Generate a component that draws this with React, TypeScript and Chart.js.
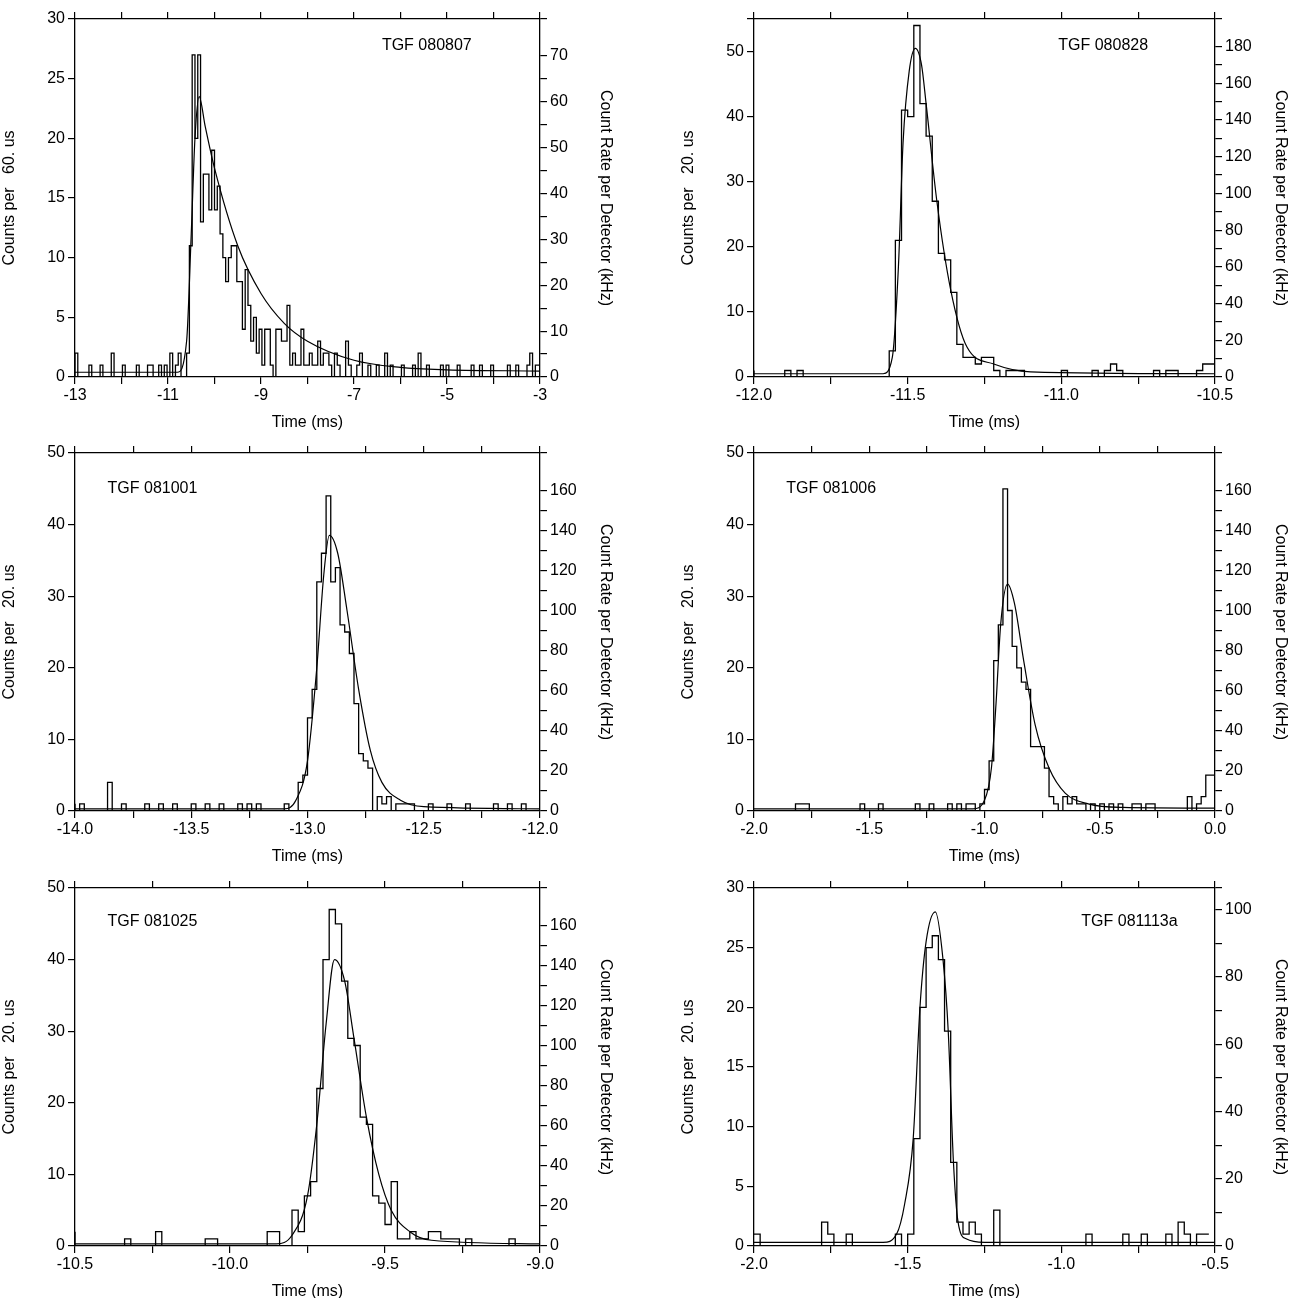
import { useEffect, useRef } from "react";
import { Chart, registerables } from "chart.js";

Chart.register(...registerables);

// bin counts, each list starts at the panel's x min with fixed bin width
const counts080807 = [
  0, 2, 0, 0, 0, 0, 1, 0, 0, 0, 1, 0, 0, 0, 2, 0, 0, 0, 1, 0, 0, 0, 0, 1, 0, 0, 0, 1, 1, 0, 0, 1, 0, 1, 0, 2, 0, 1, 2, 0, 0,
  2, 11, 27, 20, 27, 13, 17, 17, 14, 19, 14, 16, 12, 10, 8, 10, 11, 11, 8, 8, 4, 9, 6, 3, 5, 2, 4, 1, 4, 4, 1, 0, 4, 4, 3, 3, 6, 1, 2, 1, 1, 4, 1, 1, 2, 1, 1, 3, 1, 2, 2,
  1, 0, 2, 1, 0, 0, 3, 1, 0, 0, 1, 2, 0, 0, 1, 0, 0, 1, 0, 0, 2, 0, 1, 0, 0, 0, 1, 0, 0, 0, 1, 0, 2, 0, 0, 1, 0, 0, 0, 0, 1, 0, 1, 0, 0, 0, 1, 0, 0, 0, 0, 1, 0, 0, 1, 0, 0, 0, 1, 0, 0, 0, 0, 0, 1, 0, 0, 1, 0, 0, 0, 1, 2, 0, 1,
];
const counts080828 = [
  1, 0, 0, 0, 0, 0, 1, 0, 1, 0, 0, 0, 0, 0, 0, 0, 0, 0, 0, 0, 0, 0, 0,
  4, 21, 41, 40, 54, 42, 37, 27, 19, 18, 13, 5, 3, 3, 2, 3, 3, 1, 0, 1, 1,
  1, 0, 0, 0, 0, 0, 0, 1, 0, 0, 0, 0, 1, 0, 1, 2, 1, 0, 0, 0, 0, 0, 1, 0, 1, 1, 0, 0, 0, 1, 2,
];
const counts081001 = [
  1, 0, 1, 0, 0, 0, 0, 0, 4, 0, 0, 1, 0, 0, 0, 0, 1, 0, 0, 1, 0, 0, 1, 0, 0, 0, 1, 0, 0, 1, 0, 0, 1, 0, 0, 0, 1, 0, 1, 0, 1, 0, 0, 0, 0, 0, 1, 0, 0,
  4, 5, 13, 17, 32, 36, 44, 32, 34, 26, 25, 22, 15, 8, 7, 6, 0, 2, 1, 2, 0, 1, 1, 1, 1, 0,
  0, 0, 1, 0, 0, 0, 1, 0, 0, 0, 1, 0, 0, 0, 0, 0, 1, 0, 0, 1, 0, 0, 1, 0, 0,
];
const counts081006 = [
  0, 0, 0, 0, 0, 0, 0, 0, 0, 0, 1, 1, 1, 0, 0, 0, 0, 0, 0, 0, 0, 0, 0, 0, 1, 0, 0, 0, 1, 0, 0, 0, 0, 0, 0, 0, 1, 0, 0, 1, 0, 0, 0, 1, 0, 1, 0, 1, 1, 0,
  1, 3, 7, 21, 26, 45, 28, 23, 20, 18, 17, 9, 9, 9, 6, 2, 1, 0, 2, 1, 2, 1, 1, 0, 1, 0, 1, 0, 1, 0,
  1, 0, 0, 1, 1, 0, 1, 1, 0, 0, 0, 0, 0, 0, 0, 2, 0, 1, 2, 5,
];
const counts081025 = [
  2, 0, 0, 0, 0, 0, 0, 0, 0, 1, 0, 0, 0, 0, 2, 0, 0, 0, 0, 0, 0, 0, 1, 1, 0, 0, 0, 0, 0, 0, 0, 0, 2, 2, 0, 0,
  5, 2, 7, 9, 22, 40, 47, 45, 37, 29, 28, 18, 17, 7, 6, 3, 9, 1, 1, 2, 1,
  1, 2, 2, 1, 1, 1, 0, 1, 0, 0, 0, 0, 0, 0, 1, 0, 0, 0,
];
const counts081113a = [
  1, 1, 0, 0, 0, 0, 0, 0, 0, 0, 0, 0, 2, 1, 0, 0, 1, 0, 0, 0, 0, 0, 0, 0,
  1, 0, 1, 9, 20, 25, 26, 24, 18, 7, 2, 1, 2, 1, 0, 0, 3, 0,
  0, 0, 0, 0, 0, 0, 0, 0, 0, 0, 0, 0, 0, 1, 0, 0, 0, 0, 0, 1, 0, 0, 1, 0, 0, 0, 1, 0, 2, 1, 0, 1,
];

// fitted pulse curves, [time ms, counts]
const fit080807 = [
  [-13, 0.4], [-10.8, 0.4], [-10.6, 3], [-10.5, 12], [-10.42, 20], [-10.33, 23.5], [-10.2, 21], [-10, 17.5],
  [-9.5, 11], [-9, 7], [-8.5, 4.5], [-8, 3], [-7, 1.4], [-6, 0.8], [-5, 0.6], [-3, 0.5],
];
const fit080828 = [
  [-12, 0.5], [-11.58, 0.5], [-11.55, 3], [-11.53, 17], [-11.515, 36], [-11.495, 47], [-11.475, 50.5], [-11.455, 48],
  [-11.44, 42], [-11.405, 27], [-11.36, 13.4], [-11.307, 4.6], [-11.22, 2], [-11.1, 0.8], [-10.5, 0.5],
];
const fit081001 = [
  [-14, 0.3], [-13.1, 0.3], [-13.05, 1.5], [-13, 7], [-12.96, 20], [-12.93, 33], [-12.906, 38.5], [-12.87, 36],
  [-12.83, 28], [-12.78, 17], [-12.73, 8.5], [-12.68, 4], [-12.6, 1.5], [-12.5, 0.6], [-12, 0.3],
];
const fit081006 = [
  [-2, 0.3], [-1.05, 0.3], [-1.0, 1.5], [-0.97, 6], [-0.95, 15], [-0.93, 26], [-0.9, 31.7], [-0.87, 29],
  [-0.83, 21], [-0.78, 12], [-0.72, 6], [-0.65, 2.5], [-0.55, 1], [-0.4, 0.5], [0, 0.4],
];
const fit081025 = [
  [-10.5, 0.3], [-9.85, 0.3], [-9.8, 1.5], [-9.75, 7], [-9.72, 17], [-9.69, 31], [-9.663, 40], [-9.63, 37],
  [-9.6, 29], [-9.56, 18], [-9.52, 10], [-9.48, 5], [-9.42, 2], [-9.35, 0.8], [-9, 0.3],
];
const fit081113a = [
  [-2, 0.3], [-1.58, 0.3], [-1.536, 1], [-1.51, 3.5], [-1.482, 9], [-1.46, 20], [-1.44, 25.5], [-1.41, 28],
  [-1.385, 24], [-1.368, 18], [-1.351, 7], [-1.336, 2], [-1.31, 0.6], [-1.25, 0.3], [-0.5, 0.3],
];

const FONT = "'Liberation Sans', Arial, sans-serif";

type Panel = {
  name: string;
  counts: number[];
  fit: number[][];
  xMin: number;
  xMax: number;
  bin: number;
  xMajor: number;
  xDecimals: number;
  yMax: number;
  yStep: number;
  rateMax: number;
  rateStep: number;
  binLabel: string;
  left: number;
  top: number;
  width: number;
  tx: number;
  ty: number;
};

const panels: Panel[] = [
  { name: "TGF 080807", counts: counts080807, fit: fit080807, xMin: -13, xMax: -3, bin: 0.06, xMajor: 2, xDecimals: 0,
    yMax: 30, yStep: 5, rateMax: 78, rateStep: 10, binLabel: "60.", left: 0, top: 0, width: 615, tx: 0.66, ty: 0.073 },
  { name: "TGF 080828", counts: counts080828, fit: fit080828, xMin: -12, xMax: -10.5, bin: 0.02, xMajor: 0.5, xDecimals: 1,
    yMax: 55, yStep: 10, rateMax: 195, rateStep: 20, binLabel: "20.", left: 679, top: 0, width: 611, tx: 0.66, ty: 0.073 },
  { name: "TGF 081001", counts: counts081001, fit: fit081001, xMin: -14, xMax: -12, bin: 0.02, xMajor: 0.5, xDecimals: 1,
    yMax: 50, yStep: 10, rateMax: 179, rateStep: 20, binLabel: "20.", left: 0, top: 434, width: 615, tx: 0.07, ty: 0.1 },
  { name: "TGF 081006", counts: counts081006, fit: fit081006, xMin: -2, xMax: 0, bin: 0.02, xMajor: 0.5, xDecimals: 1,
    yMax: 50, yStep: 10, rateMax: 179, rateStep: 20, binLabel: "20.", left: 679, top: 434, width: 611, tx: 0.07, ty: 0.1 },
  { name: "TGF 081025", counts: counts081025, fit: fit081025, xMin: -10.5, xMax: -9, bin: 0.02, xMajor: 0.5, xDecimals: 1,
    yMax: 50, yStep: 10, rateMax: 179, rateStep: 20, binLabel: "20.", left: 0, top: 869, width: 615, tx: 0.07, ty: 0.095 },
  { name: "TGF 081113a", counts: counts081113a, fit: fit081113a, xMin: -2, xMax: -0.5, bin: 0.02, xMajor: 0.5, xDecimals: 1,
    yMax: 30, yStep: 5, rateMax: 106.5, rateStep: 20, binLabel: "20.", left: 679, top: 869, width: 611, tx: 0.71, ty: 0.095 },
];

const onStep = (v: number, base: number, step: number) => {
  const r = (v - base) / step;
  return Math.abs(r - Math.round(r)) < 1e-6;
};

function PanelChart({ p }: { p: Panel }) {
  const ref = useRef<HTMLCanvasElement | null>(null);
  useEffect(() => {
    if (!ref.current) return;
    const steps = p.counts.map((c, i) => ({ x: p.xMin + i * p.bin, y: c }));
    steps.push({ x: p.xMin + p.counts.length * p.bin, y: p.counts[p.counts.length - 1] });
    const fitPts = p.fit.map(([x, y]) => ({ x, y }));
    const tickFont = { family: FONT, size: 16 };
    const grid = { drawOnChartArea: false, tickLength: 7, color: "#000", lineWidth: 1.2 };
    const border = { color: "#000", width: 1.3 };
    const label = {
      id: "label",
      afterDraw(chart: any) {
        const a = chart.chartArea;
        const ctx = chart.ctx;
        ctx.save();
        ctx.font = `16px ${FONT}`;
        ctx.fillStyle = "#000";
        ctx.textBaseline = "middle";
        ctx.fillText(p.name, a.left + p.tx * (a.right - a.left), a.top + p.ty * (a.bottom - a.top));
        ctx.restore();
      },
    };
    const chart = new Chart(ref.current, {
      type: "line",
      data: {
        datasets: [
          { data: steps, stepped: "after", borderColor: "#000", borderWidth: 1.3, pointRadius: 0, xAxisID: "x", yAxisID: "y" },
          { data: fitPts, cubicInterpolationMode: "monotone", borderColor: "#000", borderWidth: 1.2, pointRadius: 0, xAxisID: "x", yAxisID: "y" },
        ],
      },
      options: {
        animation: false,
        responsive: false,
        maintainAspectRatio: false,
        layout: { padding: 0 },
        plugins: { legend: { display: false }, tooltip: { enabled: false } },
        scales: {
          x: {
            type: "linear", position: "bottom", min: p.xMin, max: p.xMax,
            grid, border,
            afterFit: (s: any) => { s.height = 55; },
            ticks: {
              stepSize: p.xMajor / 2, autoSkip: false, maxRotation: 0, color: "#000", font: tickFont, padding: 2,
              callback: (v: any) => (onStep(Number(v), p.xMin, p.xMajor) ? Number(v).toFixed(p.xDecimals) : ""),
            },
            title: { display: true, text: "Time (ms)", color: "#000", font: tickFont, padding: 0 },
          },
          xTop: {
            type: "linear", position: "top", min: p.xMin, max: p.xMax,
            grid, border,
            afterFit: (s: any) => { s.height = 19; },
            ticks: { stepSize: p.xMajor / 2, autoSkip: false, callback: () => "" },
          },
          y: {
            type: "linear", position: "left", min: 0, max: p.yMax,
            grid, border,
            afterFit: (s: any) => { s.width = 75; },
            ticks: {
              stepSize: p.yStep, color: "#000", font: tickFont, padding: 3,
              callback: (v: any) => (onStep(Number(v), 0, p.yStep) ? String(v) : ""),
            },
            title: { display: true, text: `Counts per   ${p.binLabel} us`, color: "#000", font: tickFont, padding: 0 },
          },
          y2: {
            type: "linear", position: "right", min: 0, max: p.rateMax,
            grid, border,
            afterFit: (s: any) => { s.width = 75; },
            ticks: {
              stepSize: p.rateStep / 2, autoSkip: false, color: "#000", font: tickFont, padding: 3,
              callback: (v: any) => (onStep(Number(v), 0, p.rateStep) ? String(v) : ""),
            },
            title: { display: true, text: "Count Rate per Detector (kHz)", color: "#000", font: tickFont, padding: 0 },
          },
        },
      } as any,
      plugins: [label],
    });
    return () => chart.destroy();
  }, [p]);
  return (
    <canvas
      ref={ref}
      width={p.width}
      height={432}
      style={{ position: "absolute", left: p.left, top: p.top, width: p.width, height: 432 }}
    />
  );
}

export default function App() {
  useEffect(() => {
    document.body.style.margin = "0";
  }, []);
  return (
    <div style={{ position: "relative", width: 1301, height: 1298, background: "#fff" }}>
      {panels.map((p) => (
        <PanelChart key={p.name} p={p} />
      ))}
    </div>
  );
}
